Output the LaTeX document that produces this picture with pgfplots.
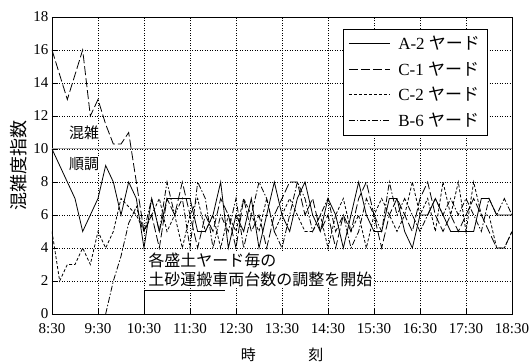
\documentclass[border=0pt]{standalone}
\usepackage{fontspec}
\setmainfont{Liberation Serif}
\newfontfamily\cjk{Noto Sans CJK JP}
\usepackage{pgfplots}
\pgfplotsset{compat=1.18}
\begin{document}
\fontsize{13}{15}\selectfont
\begin{tikzpicture}
\begin{axis}[
  at={(0,0)}, anchor=south west,
  width=460pt, height=297pt, scale only axis,
  xmin=0, xmax=600, ymin=0, ymax=18,
  xtick={0,60,...,600},
  xticklabels={8:30,9:30,10:30,11:30,12:30,13:30,14:30,15:30,16:30,17:30,18:30},
  ytick={0,2,...,18},
  /pgf/number format/assume math mode=true,
  ticklabel style={font=\fontsize{15}{17}\selectfont},
  xticklabel style={yshift=-5pt},
  yticklabel style={xshift=1pt},
  tick align=inside, major tick length=5pt,
  tick style={black, line width=0.5pt},
  xtick pos=bottom, ytick pos=left,
  grid=major,
  major grid style={black, line width=0.5pt, dash pattern=on 1pt off 1.5pt},
  axis line style={black, line width=0.8pt},
  xlabel={\cjk 時\hspace{3.5em}刻},
  xlabel style={font=\fontsize{15}{17}\selectfont, yshift=-5pt},
  ylabel={\cjk 混雑度指数},
  ylabel style={font=\fontsize{18}{20}\selectfont, yshift=-2pt},
  legend style={at={(0.633,0.96)}, anchor=north west, draw=black, line width=0.6pt,
    font=\fontsize{17}{20}\selectfont, row sep=6pt, inner xsep=5pt, inner ysep=5pt,
    cells={anchor=west}},
  legend image code/.code={\draw[#1] (0pt,0pt) -- (41pt,0pt); \path (47pt,0pt);},
  every axis plot/.append style={black, line width=0.8pt},
]
\addplot[gray!70, line width=1pt, forget plot] coordinates {(0,10) (600,10)};
% A-2 solid
\addplot[solid] coordinates {
(0,10)(10,9)(20,8)(30,7)(40,5)(50,6)(60,7)(70,9)(80,8)(90,6)(100,8)(110,7)(120,4)
(130,7)(140,5)(150,7)(160,7)(170,7)(180,7)(190,5)(200,5)(210,6)(220,8)(230,4)
(240,6)(250,5)(260,7)(270,4)(280,6)(290,8)(300,6)(310,5)(320,7)(330,8)(340,6)
(350,5)(360,7)(370,6)(380,4)(390,6)(400,8)(410,6)(420,5)(430,5)(440,7)(450,7)
(460,5)(470,4)(480,6)(490,6)(500,7)(510,6)(520,5)(530,5)(540,5)(550,5)(560,7)
(570,7)(580,6)(590,6)(600,6)};
\addlegendentry{A-2 {\cjk ヤード}}
% C-1 long dash
\addplot[dash pattern=on 9pt off 3pt] coordinates {
(0,16)(10,14.5)(20,13)(30,14.5)(40,16)(50,12)(60,13)(70,11.5)(80,10.3)(90,10.3)(100,11)(110,8)(120,5)
(130,6)(140,4)(150,7)(160,6)(170,8)(180,6)(190,4)(200,6)(210,5)(220,7)(230,6)
(240,4)(250,7)(260,5)(270,6)(280,4)(290,6)(300,7)(310,8)(320,8)(330,6)(340,7)
(350,5)(360,6)(370,4)(380,6)(390,5)(400,7)(410,8)(420,6)(430,4)(440,6)(450,7)
(460,6)(470,5)(480,7)(490,8)(500,6)(510,5)(520,6)(530,5)(540,6)(550,7)(560,6)
(570,5)(580,4)(590,4)(600,5)};
\addlegendentry{C-1 {\cjk ヤード}}
% C-2 short dash
\addplot[dash pattern=on 3pt off 2pt] coordinates {
(0,5)(10,2)(20,3)(30,3)(40,4)(50,3)(60,5)(70,4)(80,5)(90,7)(100,6.5)(110,6)(120,5)
(130,6)(140,7)(150,5)(160,6)(170,4)(180,6)(190,7)(200,5)(210,6)(220,4)(230,6)
(240,5)(250,7)(260,6)(270,5)(280,7)(290,5)(300,6)(310,7)(320,6)(330,5)(340,5)
(350,6)(360,4)(370,6)(380,7)(390,5)(400,6)(410,4)(420,6)(430,7)(440,6)(450,5)
(460,6)(470,8)(480,6)(490,7)(500,5)(510,8)(520,6)(530,8)(540,5)(550,8)(560,6)
(570,6)(580,4)(590,4)(600,5)};
\addlegendentry{C-2 {\cjk ヤード}}
% B-6 dash dot
\addplot[dash pattern=on 6pt off 2pt on 1.5pt off 2pt] coordinates {
(70,0)(80,2)(90,3.5)(100,5.5)(110,6.5)(120,5)
(130,7)(140,5)(150,8)(160,6)(170,7)(180,4)(190,8)(200,7)(210,4)(220,6)(230,5)
(240,7)(250,4)(260,6)(270,8)(280,7)(290,5)(300,4)(310,6)(320,8)(330,7)(340,5)
(350,6)(360,7)(370,5)(380,6)(390,4)(400,5)(410,7)(420,6)(430,5)(440,8)(450,6)
(460,7)(470,6)(480,5)(490,6)(500,7)(510,6)(520,7)(530,6)(540,7)(550,6)(560,5)
(570,7)(580,6)(590,7)(600,6)};
\addlegendentry{B-6 {\cjk ヤード}}
\node[font=\cjk\fontsize{15}{17}\selectfont, fill=white, inner sep=1pt] at (axis cs:42,11) {混雑};
\node[font=\cjk\fontsize{15}{17}\selectfont, fill=white, inner sep=1pt] at (axis cs:42,9.1) {順調};
\draw[black, line width=0.6pt] (axis cs:120,0) -- (axis cs:120,1.45) -- (axis cs:225,1.45);
\node[font=\cjk\fontsize{16}{19}\selectfont, anchor=south west, align=left, inner sep=1pt, fill=white]
  at (axis cs:124,1.6) {各盛土ヤード毎の\\土砂運搬車両台数の調整を開始};
\end{axis}
\pgfresetboundingbox
\path[use as bounding box] (-52pt,-49pt) rectangle (480pt,314pt);
\end{tikzpicture}
\end{document}
